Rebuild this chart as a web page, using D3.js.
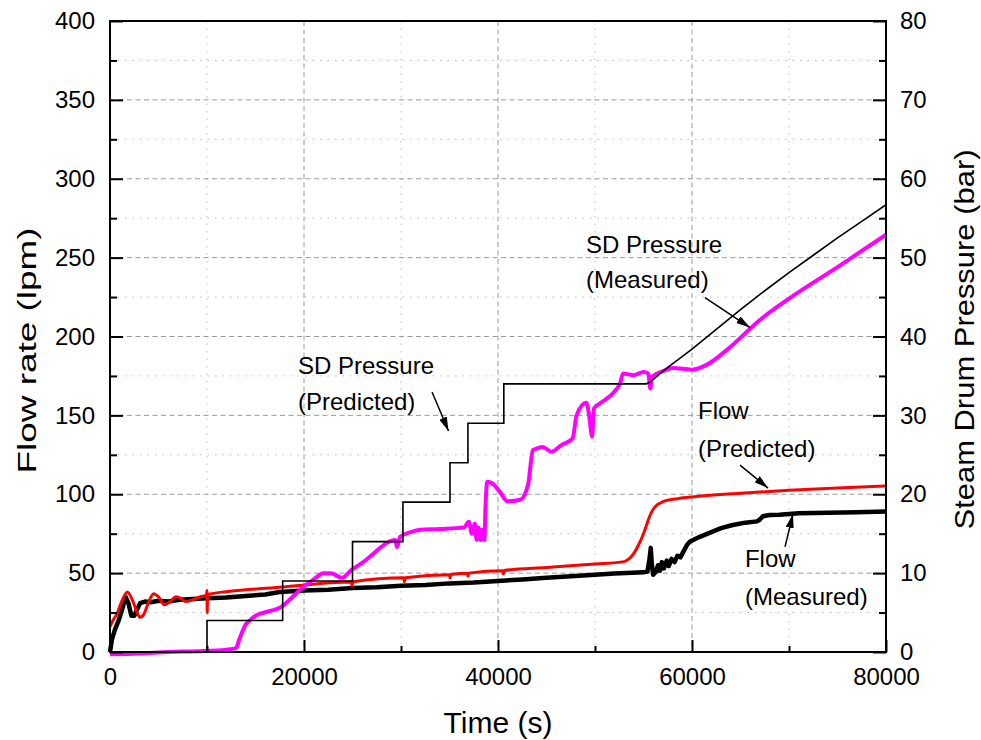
<!DOCTYPE html>
<html>
<head>
<meta charset="utf-8">
<script src="https://cdn.jsdelivr.net/npm/d3@7"></script>
<style>
  html, body { margin: 0; padding: 0; background: #fff; }
  svg { display: block; }
</style>
</head>
<body>
<svg id="chart" width="981" height="740"></svg>
<script>
// ---- data: [time (s), value] ----
const flowMeasured = [
  [0,0],[200,8],[500,14],[900,20],[1300,28],[1600,35],[1900,31],[2200,23],[2500,23],[2800,27],[3100,31],
  [3600,32],[4200,31.5],[5000,32.5],[6000,32],[7000,33],[8000,33.5],[10000,34],[12000,34.5],[14000,35.5],
  [16000,36.5],[17500,38],[20000,39],[22500,39.5],[25000,40.5],[27500,41],[30000,42],[32500,42.5],
  [35000,43.5],[37500,44],[40000,45],[42500,46],[45000,47],[47500,48],[50000,49],[52000,49.8],
  [55000,50.5],[55400,51],[55600,58],[55750,66],[55850,56],[56000,49],[56300,51],[56500,55],
  [56700,51.5],[56900,57],[57100,53],[57400,58],[57600,54.5],[57900,59],[58200,57],[58500,61],
  [58800,60],[59100,63.5],[59500,68],[59800,70],[60800,73],[62000,76],[63000,78.5],[64200,80.5],
  [65500,82],[66700,82.8],[67000,84],[67300,86],[68000,86.8],[69000,87],[70000,87.5],[71000,87.9],
  [74000,88.3],[77000,88.6],[80000,89]
];

const flowPredicted = [
  [0,16],[300,20],[700,24],[1200,32],[1800,38],[2300,33],[2800,25],[3100,22],[3500,24],[4000,32],
  [4500,37],[5000,35],[5600,30],[6200,32],[6800,35],[7300,34],[7800,32],[8500,33],[9300,35],[9950,36],
  [10000,39],[10020,25],[10060,36.5],[17500,41],[24900,44.4],[24950,42],[25050,44.5],[30300,47],
  [30350,44.5],[30450,47],[35000,49],[35050,47],[35150,49.1],[36850,50],[36900,48],[37000,50],
  [40500,51.5],[40550,49.5],[40650,51.6],[45000,53.6],[50000,55.8],[53000,57.3],[53500,59],
  [54000,62.5],[54500,68],[55000,75],[55400,82],[55700,87],[56000,90.5],[56400,93.2],[57000,95.3],
  [57400,96.1],[58500,97.2],[60000,98.3],[65000,100.6],[70000,102.5],[75000,104],[80000,105.2]
];

const pressureMeasured = [
  [0,-0.3],[3000,-0.2],[6000,0],[9000,0.1],[12000,0.3],[13000,0.5],[13300,1.5],[14000,3.5],[14400,4],
  [15000,4.6],[16500,5.2],[17500,5.6],[18500,6.6],[19600,7.9],[20900,9.1],[22000,10],[22800,10],
  [23900,9.4],[24900,10.4],[26000,11.3],[27000,12.3],[28500,13.8],[29400,14.2],[29600,13.3],
  [29900,14.6],[31000,15.2],[32000,15.5],[34000,15.6],[36500,15.8],[37000,16.5],[37300,15],
  [37600,16.3],[37800,14.2],[38000,15.8],[38200,14.2],[38400,15.5],[38600,14.2],[38700,18],
  [38900,21.6],[39400,21.4],[40200,20.3],[41000,19.1],[42300,19.3],[43100,21.2],[43600,25.6],
  [44000,25.8],[44600,26],[45500,25.4],[46500,26.2],[47700,27.1],[48100,30],[49100,31.6],
  [49400,30],[49700,27.3],[49900,30.9],[50500,31.5],[52000,33],[52600,34.1],[52900,35.3],
  [54000,35.1],[55000,35.5],[55500,35.3],[55700,33.4],[55900,34.9],[57000,35.6],[58000,36],
  [60000,35.8],[61500,36.4],[63600,38.3],[67000,42.1],[70000,44.8],[75000,48.8],[80000,52.9]
];

const pressurePredicted = [
  [0,0],[10000,0],[10000,4],[17800,4],[17800,9],[25000,9],[25000,14],[30200,14],[30200,19],
  [35050,19],[35050,24],[36900,24],[36900,29],[40600,29],[40600,34],[55300,34],[55700,34.25],
  [56200,34.75],[56800,35.4],[57500,36.1],[58500,37],[60000,38.4],[62500,40.9],[65000,43.4],
  [67500,45.8],[70000,48.1],[72500,50.3],[75000,52.5],[77500,54.6],[80000,56.7]
];

// ---- axes ----
const timeTicks = [0, 20000, 40000, 60000, 80000];
const timeMinorTicks = [10000, 30000, 50000, 70000];
const flowTicks = [0, 50, 100, 150, 200, 250, 300, 350, 400];
const flowMinorTicks = [25, 75, 125, 175, 225, 275, 325, 375];
const pressureTicks = [0, 10, 20, 30, 40, 50, 60, 70, 80];
const pressureMinorTicks = [5, 15, 25, 35, 45, 55, 65, 75];

// annotations placed in (time, flow-rate) units
const annotations = [
  { lines: ["SD Pressure", "(Predicted)"], t: 19380, v: [176.2, 153.4],
    arrow: [[33200, 164.8], [34900, 140.1]] },
  { lines: ["SD Pressure", "(Measured)"], t: 49070, v: [252.9, 230.7],
    arrow: [[61340, 224.7], [65980, 205.7]] },
  { lines: ["Flow", "(Predicted)"], t: 60620, v: [147.7, 123.8],
    arrow: [[64950, 118.5], [67840, 103.9]] },
  { lines: ["Flow", "(Measured)"], t: 65460, v: [54.1, 29.8],
    arrow: [[69590, 66.6], [70410, 87.5]] }
];

// ---- layout ----
const plotLeft = 110, plotRight = 886, plotTop = 21, plotBottom = 652;
const FONT = "'Liberation Sans', Arial, Helvetica, sans-serif";

const svg = d3.select("#chart");

const x = d3.scaleLinear().domain([0, 80000]).range([plotLeft, plotRight]);
const yL = d3.scaleLinear().domain([0, 400]).range([plotBottom, plotTop]);
const yR = d3.scaleLinear().domain([0, 80]).range([plotBottom, plotTop]);

// ---- grid ----
const grid = svg.append("g");
grid.selectAll(".gxm").data(timeMinorTicks).join("line")
  .attr("x1", d => x(d)).attr("x2", d => x(d)).attr("y1", plotTop).attr("y2", plotBottom)
  .attr("stroke", "#bdbdbd").attr("stroke-width", 1).attr("stroke-dasharray", "1.5,6");
grid.selectAll(".gym").data(flowMinorTicks).join("line")
  .attr("x1", plotLeft).attr("x2", plotRight).attr("y1", d => yL(d)).attr("y2", d => yL(d))
  .attr("stroke", "#bdbdbd").attr("stroke-width", 1).attr("stroke-dasharray", "1.5,6");
grid.selectAll(".gx").data(timeTicks.slice(1, -1)).join("line")
  .attr("x1", d => x(d)).attr("x2", d => x(d)).attr("y1", plotTop).attr("y2", plotBottom)
  .attr("stroke", "#9a9a9a").attr("stroke-width", 1).attr("stroke-dasharray", "5,3.5");
grid.selectAll(".gy").data(flowTicks.slice(1, -1)).join("line")
  .attr("x1", plotLeft).attr("x2", plotRight).attr("y1", d => yL(d)).attr("y2", d => yL(d))
  .attr("stroke", "#9a9a9a").attr("stroke-width", 1).attr("stroke-dasharray", "5,3.5");

// ---- series ----
const lineL = d3.line().x(d => x(d[0])).y(d => yL(d[1]));
const smoothL = d3.line().x(d => x(d[0])).y(d => yL(d[1])).curve(d3.curveMonotoneX);
const smoothR = d3.line().x(d => x(d[0])).y(d => yR(d[1])).curve(d3.curveMonotoneX);
const lineR = d3.line().x(d => x(d[0])).y(d => yR(d[1]));

const plot = svg.append("g");
plot.append("path").datum(flowMeasured).attr("d", lineL)
  .attr("fill", "none").attr("stroke", "#000").attr("stroke-width", 4.5)
  .attr("stroke-linejoin", "round");
plot.append("path").datum(flowPredicted).attr("d", smoothL)
  .attr("fill", "none").attr("stroke", "#ff0000").attr("stroke-width", 3)
  .attr("stroke-linejoin", "round");
plot.append("path").datum(pressureMeasured).attr("d", smoothR)
  .attr("fill", "none").attr("stroke", "#ff00ff").attr("stroke-width", 4)
  .attr("stroke-linejoin", "round");
plot.append("path").datum(pressurePredicted).attr("d", lineR)
  .attr("fill", "none").attr("stroke", "#000").attr("stroke-width", 1.6);

// ---- axes ----
function styleAxis(g) {
  g.select(".domain").remove();
  g.selectAll(".tick line").attr("stroke", "#000").attr("stroke-width", 2);
  g.selectAll("text").attr("fill", "#000");
}

svg.append("g").attr("transform", `translate(${plotLeft},0)`)
  .call(d3.axisLeft(yL).tickValues(flowTicks).tickSize(-13).tickPadding(15))
  .attr("font-size", 24).attr("font-family", FONT).call(styleAxis);
svg.append("g").attr("transform", `translate(${plotLeft},0)`)
  .call(d3.axisLeft(yL).tickValues(flowMinorTicks).tickSize(-7).tickFormat(""))
  .call(styleAxis);

svg.append("g").attr("transform", `translate(${plotRight},0)`)
  .call(d3.axisRight(yR).tickValues(pressureTicks).tickSize(-13).tickPadding(14))
  .attr("font-size", 24).attr("font-family", FONT).call(styleAxis);
svg.append("g").attr("transform", `translate(${plotRight},0)`)
  .call(d3.axisRight(yR).tickValues(pressureMinorTicks).tickSize(-7).tickFormat(""))
  .call(styleAxis);

svg.append("g").attr("transform", `translate(0,${plotBottom})`)
  .call(d3.axisBottom(x).tickValues(timeTicks).tickSize(-12).tickPadding(16).tickFormat(d3.format("d")))
  .attr("font-size", 24).attr("font-family", FONT).call(styleAxis);
svg.append("g").attr("transform", `translate(0,${plotBottom})`)
  .call(d3.axisBottom(x).tickValues(timeMinorTicks).tickSize(-6).tickFormat(""))
  .call(styleAxis);

// frame
svg.append("rect").attr("x", plotLeft).attr("y", plotTop)
  .attr("width", plotRight - plotLeft).attr("height", plotBottom - plotTop)
  .attr("fill", "none").attr("stroke", "#000").attr("stroke-width", 2);

// ---- axis titles ----
svg.append("text").attr("x", (plotLeft + plotRight) / 2).attr("y", 733)
  .attr("text-anchor", "middle").attr("font-family", FONT).attr("font-size", 30)
  .text("Time (s)");
svg.append("text").attr("transform", `translate(36,${(plotTop + plotBottom) / 2 + 14}) rotate(-90)`)
  .attr("text-anchor", "middle").attr("font-family", FONT).attr("font-size", 25)
  .attr("textLength", 246).attr("lengthAdjust", "spacingAndGlyphs")
  .text("Flow rate (lpm)");
svg.append("text").attr("transform", `translate(974,${(plotTop + plotBottom) / 2 + 3}) rotate(-90)`)
  .attr("text-anchor", "middle").attr("font-family", FONT).attr("font-size", 28)
  .attr("textLength", 380).attr("lengthAdjust", "spacingAndGlyphs")
  .text("Steam Drum Pressure (bar)");

// ---- annotations ----
svg.append("defs").append("marker")
  .attr("id", "arrowhead").attr("viewBox", "0 0 14 8")
  .attr("refX", 14).attr("refY", 4)
  .attr("markerWidth", 14).attr("markerHeight", 8)
  .attr("markerUnits", "userSpaceOnUse").attr("orient", "auto")
  .append("path").attr("d", "M0,0 L14,4 L0,8 Z").attr("fill", "#000");

const ann = svg.append("g").attr("font-family", FONT).attr("font-size", 24);
annotations.forEach(a => {
  a.lines.forEach((s, i) => {
    ann.append("text").attr("x", x(a.t)).attr("y", yL(a.v[i])).text(s);
  });
  ann.append("line")
    .attr("x1", x(a.arrow[0][0])).attr("y1", yL(a.arrow[0][1]))
    .attr("x2", x(a.arrow[1][0])).attr("y2", yL(a.arrow[1][1]))
    .attr("stroke", "#000").attr("stroke-width", 1.5)
    .attr("marker-end", "url(#arrowhead)");
});
</script>
</body>
</html>
